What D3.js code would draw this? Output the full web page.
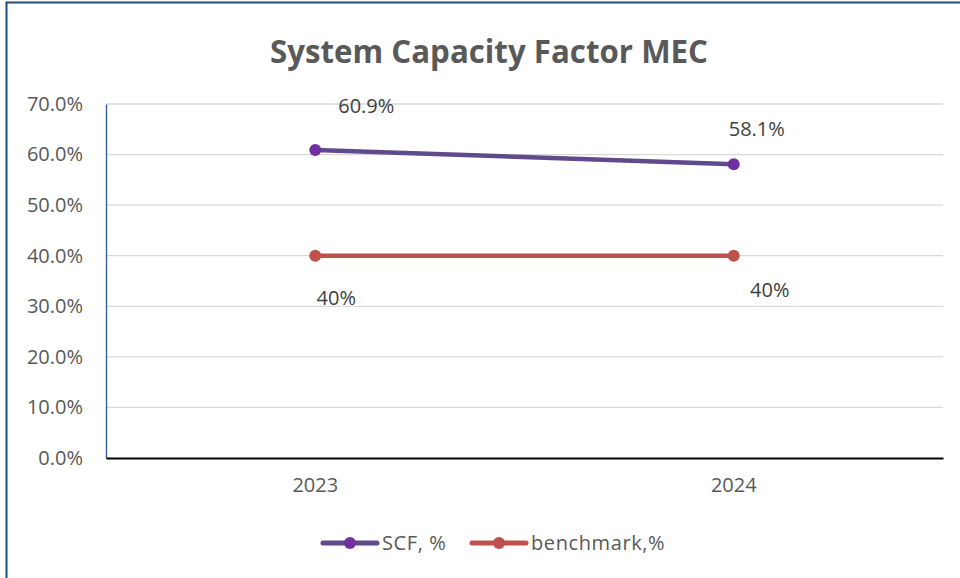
<!DOCTYPE html>
<html><head><meta charset="utf-8">
<script src="https://cdn.jsdelivr.net/npm/d3@7"></script>
<style>body{margin:0;background:#fff;} svg{display:block;font-family:"Open Sans", sans-serif;}</style>
</head><body>
<svg id="c" width="960" height="578"></svg>
<script>
const categories = ["2023", "2024"];
const scfValues = [60.9, 58.1];
const benchmarkValues = [40, 40];
const scfLabels = ["60.9%", "58.1%"];
const benchmarkLabels = ["40%", "40%"];
const yTicks = [0, 10, 20, 30, 40, 50, 60, 70];
const seriesNames = ["SCF, %", "benchmark,%"];

const svg = d3.select("#c");
const m = {left: 106, right: 943, top: 104, bottom: 458};
const FS = 20;

// outer border
svg.append("rect").attr("x", 6.5).attr("y", 2.5).attr("width", 980).attr("height", 600)
  .attr("fill", "none").attr("stroke", "#1F4E79").attr("stroke-width", 2);

svg.append("text").attr("x", 489).attr("y", 63).attr("text-anchor", "middle")
  .attr("font-size", 32).attr("font-weight", "bold").attr("fill", "#595959")
  .attr("textLength", 438).attr("lengthAdjust", "spacingAndGlyphs")
  .text("System Capacity Factor MEC");

const x = d3.scaleBand().domain(categories).range([m.left, m.right]);
const y = d3.scaleLinear().domain([0, 70]).range([m.bottom, m.top]);
const cx = d => x(d) + x.bandwidth() / 2;

// gridlines
svg.append("g").selectAll("line").data(yTicks.filter(t => t > 0)).join("line")
  .attr("x1", m.left).attr("x2", m.right).attr("y1", d => y(d)).attr("y2", d => y(d))
  .attr("stroke", "#D9D9D9").attr("stroke-width", 1.3);

// y axis
const yAxis = d3.axisLeft(y).tickValues(yTicks).tickFormat(d => d.toFixed(1) + "%").tickSize(0).tickPadding(23);
const gy = svg.append("g").attr("transform", `translate(${m.left},0)`).call(yAxis);
gy.select(".domain").attr("stroke", "#2F5597").attr("stroke-width", 1.3);
gy.selectAll("text").attr("font-size", FS).attr("fill", "#595959").attr("font-family", "'Open Sans', sans-serif");

// x axis
const xAxis = d3.axisBottom(x).tickSize(0).tickPadding(20);
const gx = svg.append("g").attr("transform", `translate(0,${m.bottom})`).call(xAxis);
gx.select(".domain").attr("stroke", "#000").attr("stroke-width", 2);
gx.selectAll("text").attr("font-size", FS).attr("fill", "#595959").attr("font-family", "'Open Sans', sans-serif");

const series = [
  {vals: scfValues, labels: scfLabels, line: "#5F4B8B", marker: "#7030A0", dx: [51, 23], dy: [-44, -35]},
  {vals: benchmarkValues, labels: benchmarkLabels, line: "#C0504D", marker: "#C0504D", dx: [21, 36], dy: [42, 34]}
];
const line = d3.line().x((d, i) => cx(categories[i])).y(d => y(d));
series.forEach(s => {
  svg.append("path").datum(s.vals).attr("d", line).attr("fill", "none")
    .attr("stroke", s.line).attr("stroke-width", 4.5).attr("stroke-linecap", "round");
  svg.append("g").selectAll("circle").data(s.vals).join("circle")
    .attr("cx", (d, i) => cx(categories[i])).attr("cy", d => y(d)).attr("r", 6).attr("fill", s.marker);
  svg.append("g").selectAll("text").data(s.vals).join("text")
    .attr("x", (d, i) => cx(categories[i]) + s.dx[i]).attr("y", (d, i) => y(d) + s.dy[i] + 7)
    .attr("text-anchor", "middle").attr("font-size", FS).attr("fill", "#404040")
    .text((d, i) => s.labels[i]);
});

// legend
const leg = [{x: 323, c: series[0]}, {x: 472, c: series[1]}];
leg.forEach((l, i) => {
  const g = svg.append("g").attr("transform", `translate(${l.x},543)`);
  g.append("line").attr("x1", 0).attr("x2", 54).attr("stroke", l.c.line).attr("stroke-width", 5).attr("stroke-linecap", "round");
  g.append("circle").attr("cx", 27).attr("r", 6).attr("fill", l.c.marker);
  g.append("text").attr("x", 59).attr("y", 7).attr("font-size", FS).attr("letter-spacing", 0.6)
    .attr("fill", "#595959").text(seriesNames[i]);
});
</script>
</body></html>
